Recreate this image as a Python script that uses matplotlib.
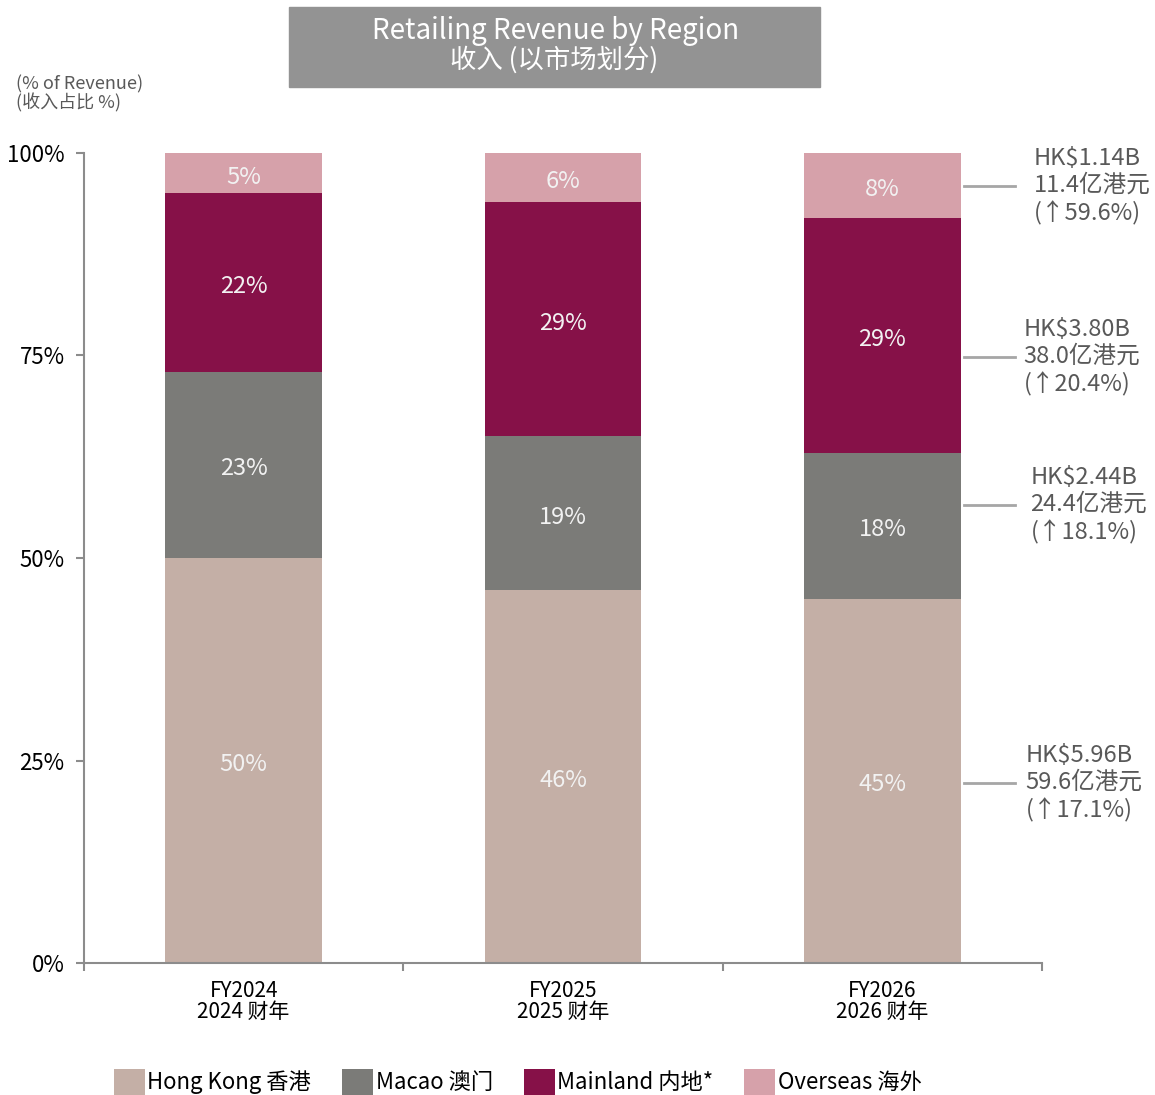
import matplotlib.pyplot as plt
import numpy as np
from matplotlib.patches import Patch

plt.rcParams['font.family'] = ['Noto Sans CJK SC', 'DejaVu Sans']

years = ["FY2024\n2024 财年", "FY2025\n2025 财年", "FY2026\n2026 财年"]
regions = ["Hong Kong 香港", "Macao 澳门", "Mainland 内地*", "Overseas 海外"]
hong_kong = [50, 46, 45]
macao = [23, 19, 18]
mainland = [22, 29, 29]
overseas = [5, 6, 8]
colors = ["#C4AFA6", "#7B7B78", "#861148", "#D6A1AA"]

# FY2026 call-outs (value, growth)
notes = ["HK$5.96B\n59.6亿港元\n(↑17.1%)",
         "HK$2.44B\n24.4亿港元\n(↑18.1%)",
         "HK$3.80B\n38.0亿港元\n(↑20.4%)",
         "HK$1.14B\n11.4亿港元\n(↑59.6%)"]
note_y = [22.2, 56.5, 74.8, 95.9]
note_px = [1025, 1030, 1023, 1033]

fig = plt.figure(figsize=(11.55, 10.95), dpi=100)
ax = fig.add_axes([0.0727, 0.1205, 0.8295, 0.7398])

x = np.arange(len(years))
series = [hong_kong, macao, mainland, overseas]
bottom = np.zeros(len(years))
for vals, col in zip(series, colors):
    vals = np.array(vals, dtype=float)
    ax.bar(x, vals, width=0.49, bottom=bottom, color=col, zorder=2)
    for xi, b, v in zip(x, bottom, vals):
        ax.text(xi, b + v / 2 - 0.5, f"{v:.0f}%", ha="center", va="center",
                color="#F2F2F2", fontsize=17)
    bottom += vals

ax.set_xlim(-0.5, 2.5)
ax.set_ylim(0, 100)
ax.set_yticks([0, 25, 50, 75, 100])
ax.set_yticklabels(["0%", "25%", "50%", "75%", "100%"], fontsize=16)
ax.set_xticks([-0.5, 0.5, 1.5, 2.5])
ax.set_xticklabels([])
ax.set_xticks(x, minor=True)
ax.set_xticklabels(years, minor=True, fontsize=15, linespacing=0.95)
ax.tick_params(axis="x", which="minor", length=0, pad=12)
ax.tick_params(axis="x", which="major", length=6, width=1.5, color="#8C8C8C")
ax.tick_params(axis="y", length=6, width=1.5, color="#8C8C8C", pad=8)
for s in ["top", "right"]:
    ax.spines[s].set_visible(False)
for s in ["left", "bottom"]:
    ax.spines[s].set_color("#8C8C8C")
    ax.spines[s].set_linewidth(1.5)

# call-out lines and labels for FY2026
for yv, px, txt in zip(note_y, note_px, notes):
    ax.plot([2.255, 2.415], [yv, yv], color="#A6A6A6", lw=2, clip_on=False)
    ax.text(2 + (px - 882) / 319, yv, txt, ha="left", va="center",
            fontsize=17, color="#595959", linespacing=1.22)

# title box
fig.patches.append(plt.Rectangle((289 / 1155, 1 - 87 / 1095), 531 / 1155, 80 / 1095,
                                 transform=fig.transFigure, color="#939393"))
fig.text(556 / 1155, 1 - 31 / 1095, "Retailing Revenue by Region", ha="center", va="center",
         fontsize=20, color="white")
fig.text(554 / 1155, 1 - 60 / 1095, "收入 (以市场划分)", ha="center", va="center",
         fontsize=19, color="white")

fig.text(16 / 1155, 1 - 94 / 1095, "(% of Revenue)\n(收入占比 %)", ha="left", va="center",
         fontsize=13, color="#595959", linespacing=1.0)

handles = [Patch(facecolor=c) for c in colors]
fig.legend(handles, regions, loc="lower left", bbox_to_anchor=(0.091, -0.008), ncol=4,
           frameon=False, fontsize=16, handlelength=1.4, handleheight=1.4,
           handletextpad=0.1, columnspacing=1.4, borderaxespad=0)

fig.savefig("out.png", dpi=100)
